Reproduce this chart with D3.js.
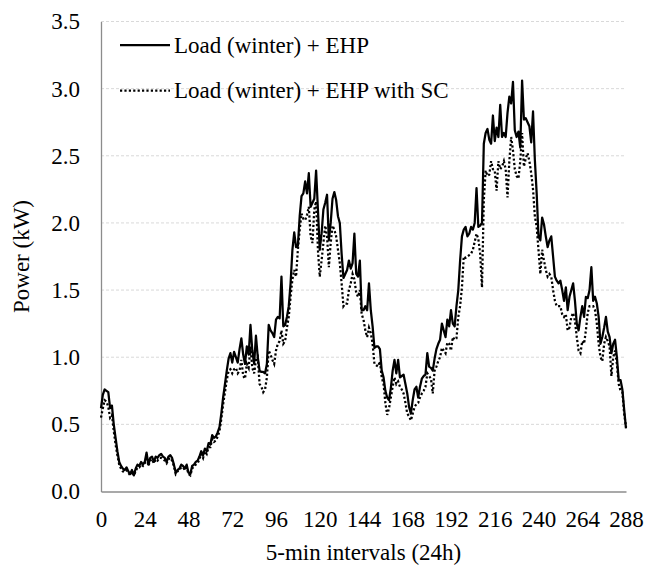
<!DOCTYPE html>
<html lang="en">
<head>
<meta charset="UTF-8">
<title>Load (winter) + EHP</title>
<script src="https://d3js.org/d3.v7.min.js"></script>
<style>
    body { margin: 0; background: #fff; }
</style>
</head>
<body>
<div id="chart"></div>
<script>
// 5-min interval index (0..288)
const loadEhp = [
    0.62, 0.72, 0.76, 0.75, 0.74, 0.62, 0.64, 0.50, 0.40, 0.30, 0.22, 0.19,
    0.17, 0.16, 0.18, 0.15, 0.13, 0.16, 0.12, 0.17, 0.20, 0.19, 0.22, 0.20,
    0.22, 0.29, 0.20, 0.25, 0.26, 0.22, 0.26, 0.25, 0.27, 0.28, 0.26, 0.25,
    0.22, 0.26, 0.27, 0.25, 0.20, 0.14, 0.16, 0.17, 0.20, 0.19, 0.17, 0.20,
    0.14, 0.13, 0.19, 0.20, 0.22, 0.23, 0.26, 0.30, 0.27, 0.32, 0.30, 0.36,
    0.35, 0.42, 0.40, 0.41, 0.44, 0.48, 0.58, 0.70, 0.80, 0.90, 0.99, 1.03,
    0.96, 1.04, 1.00, 0.96, 1.06, 1.14, 1.02, 0.95, 1.08, 1.02, 1.24, 1.05,
    0.95, 1.16, 1.00, 0.90, 0.89, 0.89, 0.88, 0.95, 1.24, 1.20, 1.18, 1.15,
    1.28, 1.30, 1.29, 1.60, 1.23, 1.24, 1.30, 1.38, 1.55, 1.80, 1.93, 1.82,
    1.83, 2.05, 2.20, 2.22, 2.31, 2.22, 2.37, 2.12, 2.15, 2.18, 2.39, 2.10,
    1.80, 1.92, 2.10, 2.15, 2.21, 1.87, 2.00, 2.18, 2.23, 2.17, 2.05, 2.00,
    1.77, 1.59, 1.62, 1.65, 1.72, 1.66, 1.70, 1.92, 1.62, 1.60, 1.72, 1.35,
    1.35, 1.38, 1.35, 1.55, 1.35, 1.23, 1.07, 1.08, 1.08, 1.06, 0.90, 0.85,
    0.75, 0.70, 0.68, 0.77, 0.90, 0.98, 0.88, 0.98, 0.85, 0.86, 0.87, 0.80,
    0.73, 0.63, 0.58, 0.68, 0.76, 0.78, 0.70, 0.78, 0.84, 0.86, 0.87, 1.03,
    0.93, 0.92, 0.90, 0.99, 1.06, 1.10, 1.13, 1.25, 1.20, 1.15, 1.28, 1.23,
    1.35, 1.25, 1.23, 1.38, 1.50, 1.72, 1.90, 1.95, 1.97, 1.90, 1.92, 1.97,
    1.95, 2.00, 2.26, 1.97, 1.98, 2.00, 2.59, 2.67, 2.70, 2.62, 2.59, 2.80,
    2.61, 2.71, 2.64, 2.88, 2.64, 2.67, 2.64, 2.82, 2.94, 2.89, 3.05, 2.69,
    2.64, 2.68, 2.56, 3.06, 2.77, 2.78, 2.75, 2.72, 2.60, 2.83, 2.47, 2.22,
    1.90, 1.87, 2.04, 1.99, 1.90, 1.82, 1.87, 1.90, 1.75, 1.60, 1.57, 1.55,
    1.57, 1.50, 1.42, 1.52, 1.35, 1.45, 1.50, 1.55, 1.42, 1.25, 1.20, 1.30,
    1.38, 1.30, 1.45, 1.44, 1.50, 1.67, 1.42, 1.45, 1.40, 1.30, 1.10, 1.15,
    1.22, 1.30, 1.19, 1.15, 1.03, 1.10, 1.13, 1.00, 0.83, 0.83, 0.76, 0.61,
    0.47
];
const loadEhpSc = [
    0.55, 0.62, 0.68, 0.67, 0.63, 0.55, 0.57, 0.45, 0.35, 0.27, 0.20, 0.17,
    0.15, 0.15, 0.16, 0.14, 0.12, 0.15, 0.12, 0.15, 0.18, 0.18, 0.20, 0.19,
    0.21, 0.26, 0.19, 0.23, 0.24, 0.21, 0.24, 0.23, 0.25, 0.25, 0.24, 0.23,
    0.21, 0.24, 0.25, 0.23, 0.19, 0.13, 0.15, 0.16, 0.18, 0.18, 0.16, 0.18,
    0.13, 0.12, 0.17, 0.19, 0.20, 0.21, 0.24, 0.28, 0.25, 0.30, 0.28, 0.33,
    0.33, 0.39, 0.37, 0.38, 0.41, 0.45, 0.54, 0.65, 0.74, 0.83, 0.90, 0.91,
    0.88, 0.91, 0.92, 0.88, 0.90, 0.98, 0.86, 0.84, 0.95, 0.92, 1.08, 0.92,
    0.88, 0.98, 1.00, 0.80, 0.78, 0.74, 0.76, 0.85, 1.05, 1.02, 0.98, 0.95,
    1.05, 1.10, 1.12, 1.20, 1.10, 1.12, 1.22, 1.30, 1.45, 1.58, 1.65, 1.60,
    1.80, 1.95, 2.07, 2.03, 2.02, 2.06, 2.12, 1.90, 1.85, 2.10, 2.16, 1.80,
    1.60, 1.72, 1.85, 1.98, 1.90, 1.67, 1.85, 1.98, 1.95, 1.90, 1.80, 1.70,
    1.55, 1.38, 1.40, 1.40, 1.50, 1.55, 1.62, 1.58, 1.48, 1.45, 1.50, 1.32,
    1.28, 1.20, 1.15, 1.22, 1.18, 1.10, 0.95, 0.94, 0.93, 0.97, 0.85, 0.80,
    0.66, 0.57, 0.62, 0.70, 0.78, 0.85, 0.80, 0.82, 0.78, 0.76, 0.73, 0.66,
    0.58, 0.56, 0.53, 0.58, 0.63, 0.65, 0.66, 0.70, 0.73, 0.75, 0.78, 0.88,
    0.86, 0.84, 0.73, 0.90, 0.93, 0.97, 1.00, 1.07, 1.05, 1.03, 1.11, 1.10,
    1.05, 1.15, 1.13, 1.14, 1.30, 1.38, 1.52, 1.75, 1.74, 1.75, 1.76, 1.77,
    1.80, 1.86, 1.92, 1.88, 1.77, 1.52, 2.17, 2.39, 2.35, 2.36, 2.46, 2.40,
    2.39, 2.24, 2.46, 2.40, 2.42, 2.46, 2.40, 2.19, 2.46, 2.64, 2.54, 2.40,
    2.35, 2.33, 2.46, 2.67, 2.42, 2.48, 2.52, 2.46, 2.37, 2.25, 2.05, 1.97,
    1.80, 1.62, 1.80, 1.72, 1.65, 1.60, 1.62, 1.60, 1.50, 1.42, 1.38, 1.38,
    1.38, 1.32, 1.30, 1.32, 1.20, 1.22, 1.30, 1.33, 1.27, 1.15, 1.05, 1.03,
    1.12, 1.10, 1.20, 1.33, 1.38, 1.38, 1.38, 1.35, 1.25, 1.10, 1.00, 0.97,
    1.10, 1.15, 1.12, 1.08, 0.86, 1.00, 1.05, 0.95, 0.80, 0.75, 0.74, 0.58,
    0.48
];
const xTicks = [0, 24, 48, 72, 96, 120, 144, 168, 192, 216, 240, 264, 288];
const yTicks = [0, 0.5, 1.0, 1.5, 2.0, 2.5, 3.0, 3.5];
const seriesNames = ["Load (winter) + EHP", "Load (winter) + EHP with SC"];

const width = 646, height = 571;
const margin = { top: 21.5, right: 20, bottom: 79.5, left: 101 };
const serif = "'Liberation Serif', 'Times New Roman', 'DejaVu Serif', serif";
const fontSize = 23;

const svg = d3.select("#chart").append("svg")
    .attr("width", width)
    .attr("height", height);

const x = d3.scaleLinear().domain([0, 288]).range([margin.left, width - margin.right]);
const y = d3.scaleLinear().domain([0, 3.5]).range([height - margin.bottom, margin.top]);

// gridlines
svg.append("g")
    .selectAll("line")
    .data(yTicks.filter(d => d > 0))
    .join("line")
    .attr("x1", x(0)).attr("x2", x(288))
    .attr("y1", d => y(d)).attr("y2", d => y(d))
    .attr("stroke", "#d9d9d9")
    .attr("stroke-width", 1)
    .attr("stroke-dasharray", "3,2");

// axes
const yAxis = svg.append("g")
    .attr("transform", `translate(${x(0)},0)`)
    .call(d3.axisLeft(y).tickValues(yTicks).tickFormat(d3.format(".1f")).tickSize(0).tickPadding(21));
yAxis.select(".domain").attr("stroke", "#8c8c8c").attr("stroke-width", 1.3);

const xAxis = svg.append("g")
    .attr("transform", `translate(0,${y(0)})`)
    .call(d3.axisBottom(x).tickValues(xTicks).tickSize(0).tickPadding(19));
xAxis.select(".domain").attr("stroke", "#8c8c8c").attr("stroke-width", 1.3);

svg.selectAll(".tick text")
    .attr("font-size", fontSize)
    .attr("font-family", serif)
    .attr("fill", "#000");

// lines
const line = d3.line().x((d, i) => x(i)).y(d => y(d));

svg.append("path")
    .datum(loadEhpSc)
    .attr("fill", "none")
    .attr("stroke", "#000")
    .attr("stroke-width", 2.25)
    .attr("stroke-dasharray", "2.2,2.2")
    .attr("d", line);

svg.append("path")
    .datum(loadEhp)
    .attr("fill", "none")
    .attr("stroke", "#000")
    .attr("stroke-width", 2.25)
    .attr("stroke-linejoin", "round")
    .attr("d", line);

// axis titles
svg.append("text")
    .attr("x", (x(0) + x(288)) / 2)
    .attr("y", 560)
    .attr("text-anchor", "middle")
    .attr("font-size", fontSize)
    .attr("font-family", serif)
    .text("5-min intervals (24h)");

svg.append("text")
    .attr("transform", `translate(29,${(y(0) + y(3.5)) / 2}) rotate(-90)`)
    .attr("text-anchor", "middle")
    .attr("font-size", fontSize)
    .attr("font-family", serif)
    .text("Power (kW)");

// legend
const legend = svg.append("g");
const dashes = [null, "2.2,2.2"];
seriesNames.forEach((name, i) => {
    const ly = 45 + i * 45.5;
    legend.append("line")
        .attr("x1", 120).attr("x2", 170)
        .attr("y1", ly).attr("y2", ly)
        .attr("stroke", "#000")
        .attr("stroke-width", 2.25)
        .attr("stroke-dasharray", dashes[i]);
    legend.append("text")
        .attr("x", 174)
        .attr("y", ly + 7.5)
        .attr("font-size", fontSize)
        .attr("font-family", serif)
        .text(name);
});
</script>
</body>
</html>
